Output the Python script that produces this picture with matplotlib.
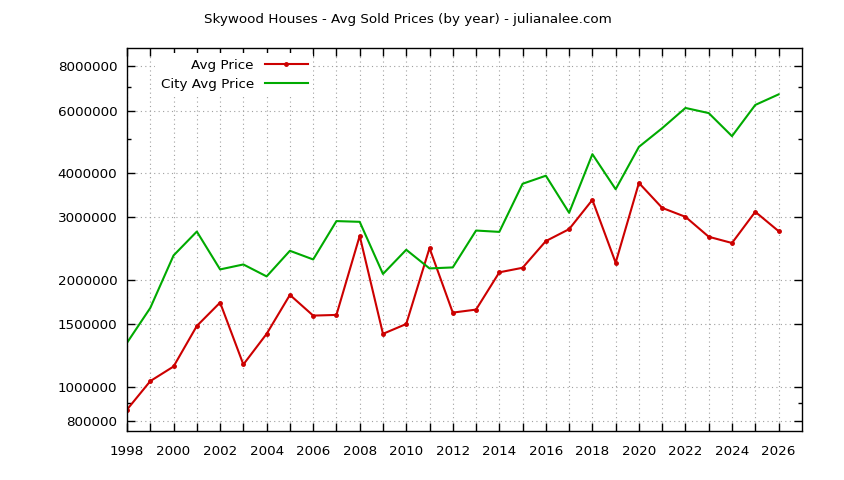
import matplotlib.pyplot as plt
from matplotlib.ticker import FixedLocator, FuncFormatter, NullFormatter

plt.rcParams['font.family'] = ['DejaVu Sans']

years = list(range(1998, 2027))
avg_price = [862000, 1037000, 1140000, 1483000, 1726000, 1155000, 1409000, 1814000,
             1586000, 1593000, 2660000, 1409000, 1502000, 2458000, 1617000, 1649000,
             2100000, 2163000, 2572000, 2779000, 3360000, 2235000, 3750000, 3190000,
             3010000, 2645000, 2540000, 3110000, 2744000]
city_avg_price = [1330000, 1667000, 2343000, 2736000, 2140000, 2210000, 2045000, 2415000,
                  2283000, 2928000, 2914000, 2078000, 2431000, 2154000, 2168000, 2754000,
                  2730000, 3730000, 3930000, 3090000, 4520000, 3600000, 4740000, 5350000,
                  6100000, 5900000, 5080000, 6220000, 6660000]
y_major = [800000, 1000000, 1500000, 2000000, 3000000, 4000000, 6000000, 8000000]
y_minor = [900000, 5000000, 7000000]

fig = plt.figure(figsize=(8.44, 4.80), dpi=100)
ax = fig.add_axes([0.1505, 0.102, 0.7995, 0.798])

ax.plot(years, avg_price, color='#cc0000', lw=1.5, marker='o', ms=2.5, label='Avg Price')
ax.plot(years, city_avg_price, color='#00aa00', lw=1.5, label='City Avg Price')

ax.set_yscale('log')
ax.set_xlim(1998, 2027)
ax.set_ylim(750000, 9000000)

ax.yaxis.set_major_locator(FixedLocator(y_major))
ax.yaxis.set_minor_locator(FixedLocator(y_minor))
ax.yaxis.set_major_formatter(FuncFormatter(lambda v, p: '%d' % round(v)))
ax.yaxis.set_minor_formatter(NullFormatter())
ax.xaxis.set_major_locator(FixedLocator(years))
ax.xaxis.set_major_formatter(FuncFormatter(lambda v, p: '%d' % v if int(v) % 2 == 0 else ''))

ax.tick_params(which='both', direction='in', top=True, right=True, labelsize=9.7, width=1)
ax.tick_params(which='major', length=6)
ax.tick_params(which='minor', length=3)
ax.tick_params(axis='y', which='major', pad=7)
ax.tick_params(axis='x', which='major', pad=10)
for s in ax.spines.values():
    s.set_linewidth(1)

ax.grid(True, which='major', color='#a0a0a0', lw=0.8, linestyle=(0, (1, 3)))

leg = ax.legend(loc='upper left', bbox_to_anchor=(0.034, 1.0), markerfirst=False,
                frameon=True, fontsize=9.7, handlelength=3.2, borderaxespad=0.4,
                labelspacing=0.45)
leg.get_frame().set_edgecolor('none')
leg.get_frame().set_facecolor('white')
leg.get_frame().set_alpha(1)
for t in leg.get_texts():
    t.set_ha('right')
leg._legend_box.align = 'right'

fig.text(0.483, 0.96, 'Skywood Houses - Avg Sold Prices (by year) - julianalee.com',
         ha='center', va='center', fontsize=9.7)

fig.savefig('out.png', dpi=100)
